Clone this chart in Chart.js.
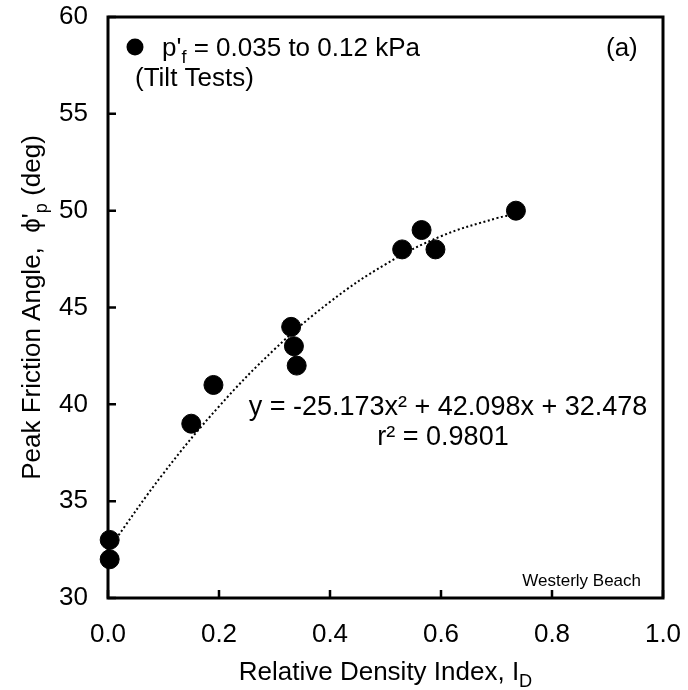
<!DOCTYPE html>
<html>
<head>
<meta charset="utf-8">
<script src="https://cdn.jsdelivr.net/npm/chart.js@4.4.1/dist/chart.umd.min.js"></script>
<style>
  html, body { margin: 0; padding: 0; background: #fff; }
  #wrap { width: 688px; height: 690px; }
</style>
</head>
<body>
<div id="wrap"><canvas id="myChart"></canvas></div>
<script>
// measured points (relative density, peak friction angle)
let densityIdx = [0.003, 0.003, 0.15, 0.19, 0.33, 0.335, 0.34, 0.53, 0.565, 0.59, 0.735];
let frictionAngle = [33, 32, 39, 41, 44, 43, 42, 48, 49, 48, 50];

// dotted trend curve
let trendX = [0.0, 0.1, 0.2, 0.3, 0.4, 0.5, 0.6, 0.7, 0.735];
let trendY = [32.48, 36.44, 39.89, 42.84, 45.29, 47.23, 48.68, 49.61, 49.82];

let xTicks = [0, 0.2, 0.4, 0.6, 0.8, 1.0];
let yTicks = [30, 35, 40, 45, 50, 55, 60];

const FONT = 'Liberation Sans, Arial, sans-serif';
const FS = 26;

let pts = [];
for (let i = 0; i < densityIdx.length; i++) {
  pts.push({ x: densityIdx[i], y: frictionAngle[i] });
}
let trend = [];
for (let i = 0; i < trendX.length; i++) {
  trend.push({ x: trendX[i], y: trendY[i] });
}

// writes text with a subscript part
function subText(c, parts, x, y, size) {
  let cx = x;
  for (let p of parts) {
    if (p.sub) {
      c.font = (size * 0.7) + 'px ' + FONT;
      c.fillText(p.t, cx, y + size * 0.25);
    } else {
      c.font = size + 'px ' + FONT;
      c.fillText(p.t, cx, y);
    }
    cx += c.measureText(p.t).width;
  }
  return cx;
}
function partsWidth(c, parts, size) {
  let w = 0;
  for (let p of parts) {
    c.font = (p.sub ? size * 0.7 : size) + 'px ' + FONT;
    w += c.measureText(p.t).width;
  }
  return w;
}

const frame = {
  id: 'frame',
  afterDraw(chart) {
    const c = chart.ctx;
    const a = chart.chartArea;
    const xs = chart.scales.x, ys = chart.scales.y;
    c.save();
    c.strokeStyle = '#000';
    c.fillStyle = '#000';
    // inward ticks
    c.lineWidth = 2.5;
    c.beginPath();
    for (let v of xTicks) {
      let px = xs.getPixelForValue(v);
      c.moveTo(px, a.bottom);
      c.lineTo(px, a.bottom - 8);
    }
    for (let v of yTicks) {
      let py = ys.getPixelForValue(v);
      c.moveTo(a.left, py);
      c.lineTo(a.left + 8, py);
    }
    c.stroke();
    // box
    c.lineWidth = 3;
    c.strokeRect(a.left, a.top, a.right - a.left, a.bottom - a.top);

    // legend
    c.beginPath();
    c.arc(135, 47, 8.5, 0, Math.PI * 2);
    c.fill();
    c.textBaseline = 'alphabetic';
    c.textAlign = 'left';
    subText(c, [{ t: "p'" }, { t: 'f', sub: true }, { t: ' = 0.035 to 0.12 kPa' }], 162, 56, FS);
    c.font = FS + 'px ' + FONT;
    c.fillText('(Tilt Tests)', 135, 86);
    c.fillText('(a)', 606, 56);

    // trend equation
    c.textAlign = 'center';
    c.font = '27px ' + FONT;
    c.fillText('y = -25.173x\u00B2 + 42.098x + 32.478', 448, 415);
    c.fillText('r\u00B2 = 0.9801', 443, 445);

    c.font = '17px ' + FONT;
    c.textAlign = 'right';
    c.fillText('Westerly Beach', 641, 586);

    // axis titles
    c.textAlign = 'left';
    let xt = [{ t: 'Relative Density Index, I' }, { t: 'D', sub: true }];
    let w = partsWidth(c, xt, FS);
    subText(c, xt, (a.left + a.right) / 2 - w / 2, 680, FS);

    c.translate(40, (a.top + a.bottom) / 2);
    c.rotate(-Math.PI / 2);
    let yt = [{ t: 'Peak Friction Angle,  \u03D5\'' }, { t: 'p', sub: true }, { t: ' (deg)' }];
    w = partsWidth(c, yt, FS);
    subText(c, yt, -w / 2, 0, FS);
    c.restore();
  }
};

new Chart(document.getElementById('myChart'), {
  type: 'scatter',
  data: {
    datasets: [{
      label: 'Tilt Tests',
      data: pts,
      backgroundColor: '#000',
      borderColor: '#000',
      pointRadius: 9.5,
      pointHoverRadius: 9.5,
      clip: false,
      order: 1
    }, {
      label: 'trend',
      type: 'line',
      data: trend,
      borderColor: '#000',
      borderWidth: 2,
      borderDash: [2, 2.5],
      pointRadius: 0,
      tension: 0.4,
      fill: false,
      order: 2
    }]
  },
  options: {
    responsive: true,
    maintainAspectRatio: false,
    animation: false,
    layout: { padding: { top: 17, right: 25, left: 0, bottom: 0 } },
    plugins: { legend: { display: false }, tooltip: { enabled: false } },
    scales: {
      x: {
        type: 'linear', min: 0, max: 1,
        afterFit(s) { s.height = 92; s.paddingLeft = 0; s.paddingRight = 0; },
        afterBuildTicks(s) { s.ticks = xTicks.map(v => ({ value: v })); },
        grid: { display: false },
        border: { display: false },
        ticks: {
          color: '#000', padding: 13, maxRotation: 0,
          font: { family: FONT, size: FS },
          callback: v => v.toFixed(1)
        }
      },
      y: {
        type: 'linear', min: 30, max: 60,
        afterFit(s) { s.width = 108; s.paddingTop = 0; s.paddingBottom = 0; },
        afterBuildTicks(s) { s.ticks = yTicks.map(v => ({ value: v })); },
        grid: { display: false },
        border: { display: false },
        ticks: {
          color: '#000', padding: 12,
          font: { family: FONT, size: FS }
        }
      }
    }
  },
  plugins: [frame]
});
</script>
</body>
</html>
